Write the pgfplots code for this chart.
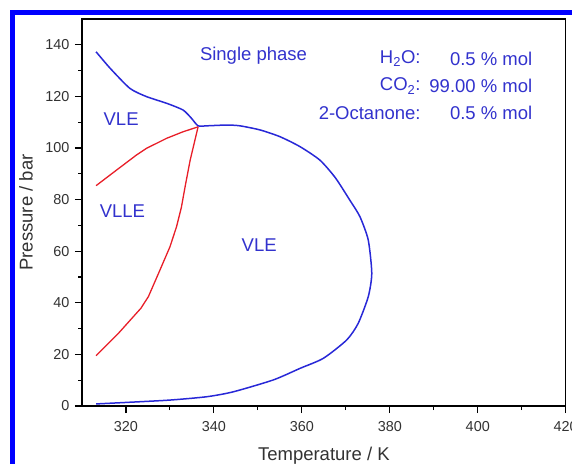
\documentclass[border=0pt]{standalone}
\usepackage{pgfplots}
\pgfplotsset{compat=1.18}
\usepackage{fontspec}
\setmainfont{Liberation Sans}
\definecolor{cblue}{RGB}{40,40,215}
\definecolor{tblue}{RGB}{50,50,205}
\definecolor{cred}{RGB}{232,30,40}
\definecolor{tickgray}{RGB}{50,50,50}
\begin{document}
\begin{tikzpicture}[x=1pt,y=1pt]
\useasboundingbox (0,0) rectangle (572,464);
\fill[blue] (10,0) rectangle (15,454);
\fill[blue] (10,449) rectangle (572,454);
\begin{axis}[
  at={(82pt,58pt)}, anchor=south west,
  width=483.7pt, height=387pt, scale only axis,
  xmin=310, xmax=420, ymin=0, ymax=150,
  xtick={320,340,...,420}, ytick={0,20,...,140},
  minor x tick num=1, minor y tick num=1,
  xtick pos=bottom, ytick pos=left, tick align=outside,
  major tick length=7pt, minor tick length=4pt,
  every tick/.style={black, line width=1.1pt},
  axis line style={line width=1.1pt},
  ticklabel style={font=\fontsize{14.4}{16}\selectfont, text=tickgray},
  xticklabel style={yshift=-5pt},
  yticklabel style={xshift=-2pt},
  /pgf/number format/assume math mode=true,
  /pgf/number format/1000 sep={},
  xlabel={Temperature / K}, ylabel={Pressure / bar},
  label style={font=\fontsize{18.5}{20}\selectfont, text=tickgray},
  xlabel style={at={(axis description cs:0.5,-0.128)}, anchor=center},
  ylabel style={at={(axis description cs:-0.1158,0.5)}, anchor=center},
  clip=false,
]
\addplot[cblue, line width=1.5pt, smooth, tension=0.4] coordinates {
(313.2,137.3)(316.4,130.9)(320.9,123.1)(324.7,119.9)(329.3,117.3)(333.0,114.7)(334.9,111.5)(336.4,108.6)(338.4,108.6)(342.9,108.9)(345.9,108.6)(350.5,107.0)(355.0,104.4)(359.6,100.5)(364.1,95.3)(367.6,88.5)(370.9,79.8)(373.2,73.4)(375.1,64.3)(375.9,51.4)(375.1,42.4)(372.8,32.0)(370.2,25.6)(364.9,18.5)(359.6,14.6)(353.5,10.1)(344.4,5.5)(338.4,3.6)(330.0,2.3)(320.2,1.4)(313.2,0.8)
};
\addplot[cred, line width=1.3pt] coordinates {
(313.2,85.4)(317.9,91.5)(322.4,97.3)(324.7,99.9)(329.3,103.8)(333.0,106.3)(336.4,108.2)
};
\addplot[cred, line width=1.3pt] coordinates {
(313.2,19.5)(318.3,28.2)(323.4,37.9)(325.1,42.4)(327.4,51.4)(330.0,61.7)(331.5,69.5)(332.6,77)(333.5,85.5)(334.6,95.3)(336.4,108.2)
};
\node[text=tblue, font=\fontsize{18.5}{20}\selectfont] at (axis cs:349.0,135.7) {Single phase};
\node[text=tblue, font=\fontsize{18.5}{20}\selectfont] at (axis cs:318.9,111.2) {VLE};
\node[text=tblue, font=\fontsize{18.5}{20}\selectfont] at (axis cs:319.2,75.6) {VLLE};
\node[text=tblue, font=\fontsize{18.5}{20}\selectfont] at (axis cs:350.3,62.2) {VLE};
\node[text=tblue, font=\fontsize{18.5}{20}\selectfont, anchor=east] at (axis cs:387.8,134.5) {H\textsubscript{2}O:};
\node[text=tblue, font=\fontsize{18.5}{20}\selectfont, anchor=east] at (axis cs:413.2,134.5) {0.5 \% mol};
\node[text=tblue, font=\fontsize{18.5}{20}\selectfont, anchor=east] at (axis cs:387.8,124.0) {CO\textsubscript{2}:};
\node[text=tblue, font=\fontsize{18.5}{20}\selectfont, anchor=east] at (axis cs:413.2,124.0) {99.00 \% mol};
\node[text=tblue, font=\fontsize{18.5}{20}\selectfont, anchor=east] at (axis cs:387.8,113.6) {2-Octanone:};
\node[text=tblue, font=\fontsize{18.5}{20}\selectfont, anchor=east] at (axis cs:413.2,113.6) {0.5 \% mol};
\end{axis}
\end{tikzpicture}
\end{document}
